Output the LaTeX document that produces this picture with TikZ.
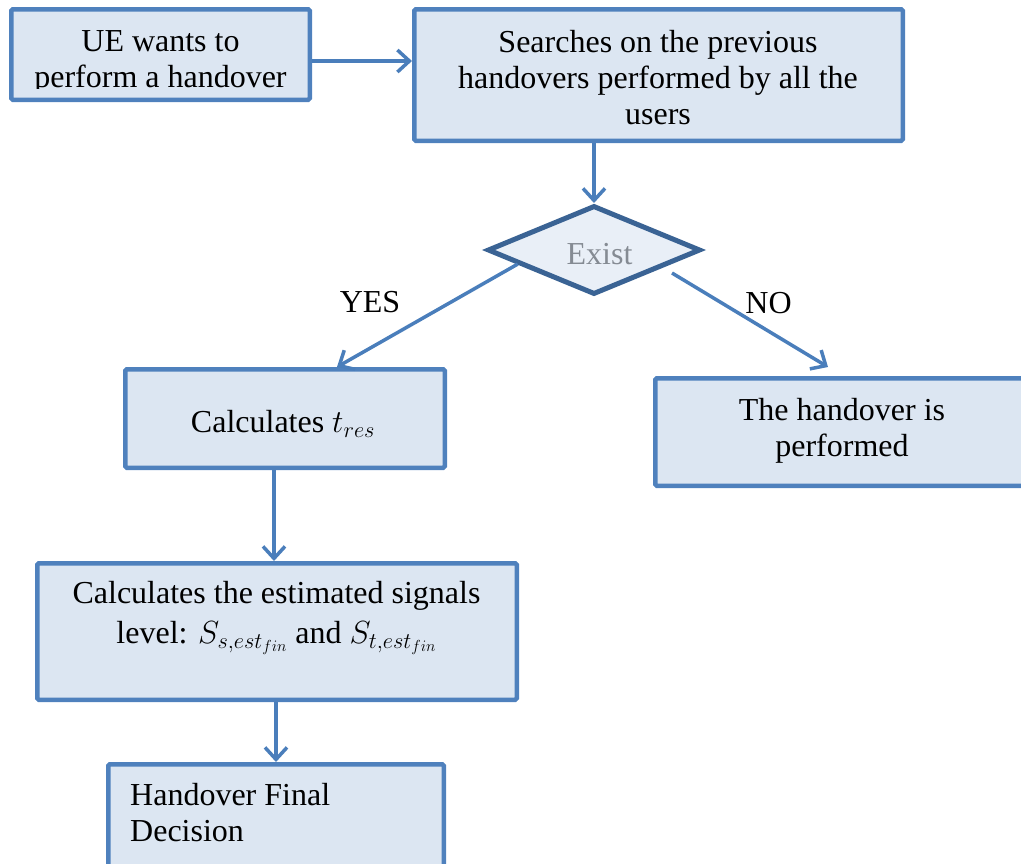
\RequirePackage{fix-cm}
\documentclass[tikz,border=0pt]{standalone}
\usepackage{fontspec}
\setmainfont{Liberation Serif}
\usetikzlibrary{arrows.meta,shapes.geometric,calc}
\definecolor{boxfill}{HTML}{DCE6F2}
\definecolor{boxline}{HTML}{4F81BD}
\definecolor{diafill}{HTML}{E9EFF7}
\definecolor{dialine}{HTML}{3A6394}
\definecolor{arrowc}{HTML}{4A7EBB}
\definecolor{existc}{HTML}{858B93}
\begin{document}
\begin{tikzpicture}[x=1pt,y=-1pt,
  box/.style={draw=boxline,fill=boxfill,line width=4.5pt,rounded corners=1.5pt,inner sep=0pt},
  txt/.style={font=\fontsize{32}{36}\selectfont,align=center,inner sep=0pt,anchor=north},
  arr/.style={draw=arrowc,line width=3.5pt,-{Straight Barb[length=12pt,width=22pt]}},
  lbl/.style={font=\fontsize{32}{36}\selectfont,inner sep=0pt,anchor=base},
  decision/.style={shape=diamond,draw=dialine,fill=diafill,line width=5pt,aspect=2.4,
    minimum width=213pt,minimum height=89pt,inner sep=0pt,text=existc,
    text height=29pt,text depth=0pt,
    font=\fontsize{32}{36}\selectfont}]
\useasboundingbox (0,0) rectangle (1021,863);
\clip (0,0) rectangle (1021,863);

% boxes
\node[box,minimum width=298.5pt,minimum height=90.5pt] (b1) at (160.5,54.5) {};
\node[box,minimum width=488.5pt,minimum height=131.5pt] (b2) at (658.5,75) {};
\node[decision] (dia) at (594,250) {\hspace*{11pt}Exist};
\node[box,minimum width=319.5pt,minimum height=98.5pt] (tres) at (285,418.5) {};
\node[box,minimum width=412.5pt,minimum height=107.5pt] (perf) at (861.5,432) {};
\node[box,minimum width=479.5pt,minimum height=136.5pt] (b4) at (277,631.5) {};
\node[box,minimum width=335.5pt,minimum height=133.5pt] (b5) at (276,831) {};

% texts
\begin{scope}
  \clip (9,7) rectangle (312,88.5);
  \node[txt] (t1) at (160.5,30) {UE wants to\\perform a handover};
\end{scope}
\node[txt] (t2) at (658,30) {Searches on the previous\\handovers performed by all the\\users};
\node[txt] (t3) at (283,410) {Calculates $t_{res}$};
\node[txt] (t4) at (842,398) {The handover is\\performed};
\node[txt] (t5) at (276.5,581) {Calculates the estimated signals\\[4pt]level: $S_{s,est_{fin}}$ and $S_{t,est_{fin}}$};
\node[txt,anchor=north west,align=left] (t6) at (130,783) {Handover Final\\Decision};

% labels
\node[lbl] (yes) at (370,312) {YES};
\node[lbl] (no) at (768.5,313) {NO};

% connectors
\path ([yshift=-6.5pt]b1.east) coordinate (a1);
\draw[arr] (a1) -- (a1 -| b2.west);
\draw[arr] (dia.north |- b2.south) -- (dia.north);
\draw[arr] ($(dia.west)!0.3!(dia.south)$) -- ([xshift=52pt]tres.north);
\draw[arr] ([shift={(78,23)}]dia.center) -- ([shift={(-33.5,-9)}]perf.north);
\draw[arr] ([xshift=-11pt]tres.south) -- ([xshift=-11pt]tres.south |- b4.north);
\draw[arr] ([xshift=-1pt]b4.south) -- ([xshift=-1pt]b4.south |- b5.north);
\end{tikzpicture}
\end{document}
